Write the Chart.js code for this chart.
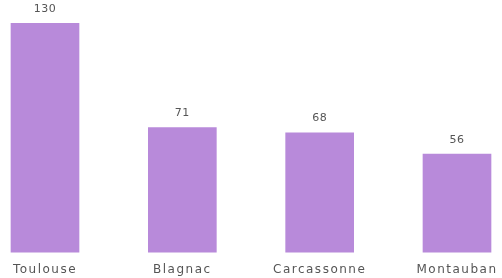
<!DOCTYPE html>
<html>
<head>
<meta charset="utf-8">
<script src="https://cdn.jsdelivr.net/npm/chart.js@4"></script>
<style>
  html, body { margin: 0; padding: 0; background: #fff; }
  #wrap { width: 502px; height: 278px; }
</style>
</head>
<body>
<div id="wrap"><canvas id="myChart" width="502" height="278"></canvas></div>
<script>
var cities = ['Toulouse', 'Blagnac', 'Carcassonne', 'Montauban']
var counts = [130, 71, 68, 56]

// wide letter spacing like the original labels
var spacing = {
  id: 'spacing',
  beforeDraw: function (chart) {
    chart.ctx.letterSpacing = '1.5px'
  },
}

// draws the number above each bar
var valueLabels = {
  id: 'valueLabels',
  afterDatasetsDraw: function (chart) {
    var ctx = chart.ctx
    var meta = chart.getDatasetMeta(0)
    ctx.save()
    ctx.letterSpacing = '0.5px'
    ctx.font = '11px "DejaVu Sans", sans-serif'
    ctx.fillStyle = '#555'
    ctx.textAlign = 'center'
    ctx.textBaseline = 'middle'
    meta.data.forEach(function (bar, i) {
      ctx.fillText(String(counts[i]), bar.x, bar.y - 14)
    })
    ctx.restore()
  },
}

var ctx = document.getElementById('myChart').getContext('2d')
var myChart = new Chart(ctx, {
  type: 'bar',
  data: {
    labels: cities,
    datasets: [
      {
        data: counts,
        backgroundColor: '#b88ada',
        barPercentage: 0.5,
        categoryPercentage: 1,
        clip: false,
      },
    ],
  },
  options: {
    responsive: false,
    animation: false,
    layout: { padding: { top: 23, left: 45, right: 45, bottom: -9 } },
    plugins: {
      legend: { display: false },
      tooltip: { enabled: false },
    },
    scales: {
      x: {
        offset: false,
        grid: { display: false, drawTicks: false },
        border: { display: false },
        ticks: {
          padding: 10,
          color: '#555',
          maxRotation: 0,
          autoSkip: false,
          font: { family: '"DejaVu Sans", sans-serif', size: 12 },
        },
      },
      y: {
        display: false,
        min: 0,
        max: 130,
      },
    },
  },
  plugins: [spacing, valueLabels],
})
</script>
</body>
</html>
